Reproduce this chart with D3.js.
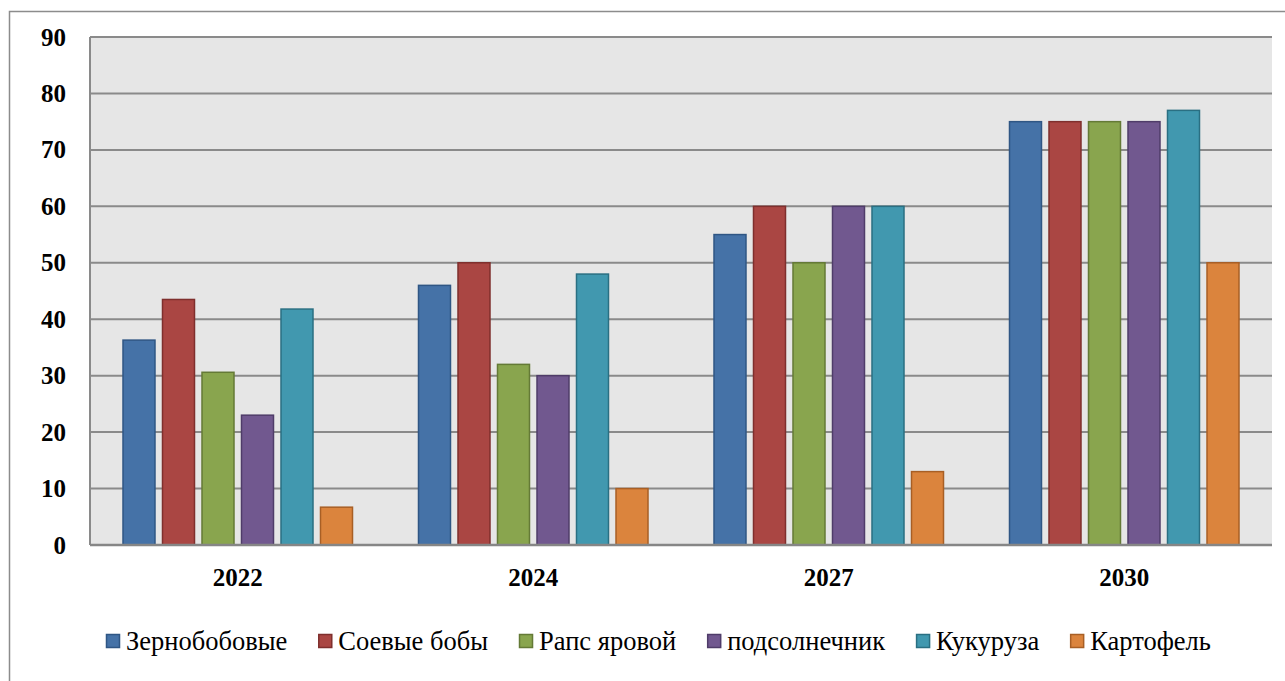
<!DOCTYPE html>
<html>
<head>
<meta charset="utf-8">
<script src="https://cdn.jsdelivr.net/npm/d3@7"></script>
<style>
  body { margin: 0; background: #fff; }
  svg text { font-family: "Liberation Serif", "Times New Roman", serif; }
</style>
</head>
<body>
<div id="chart"></div>
<script>
// data
var years = ["2022", "2024", "2027", "2030"];
var crops = ["Зернобобовые", "Соевые бобы", "Рапс яровой", "подсолнечник", "Кукуруза", "Картофель"];
var zernobobovye = [36.3, 46, 55, 75];
var soevye = [43.5, 50, 60, 75];
var raps = [30.6, 32, 50, 75];
var podsolnechnik = [23, 30, 60, 75];
var kukuruza = [41.8, 48, 60, 77];
var kartofel = [6.7, 10, 13, 50];
var yTicks = [0, 10, 20, 30, 40, 50, 60, 70, 80, 90];

var series = [zernobobovye, soevye, raps, podsolnechnik, kukuruza, kartofel];
var fills = ["#4572a7", "#aa4643", "#89a54e", "#71588f", "#4198af", "#db843d"];
var strokes = ["#2f5684", "#7f2f2d", "#647a36", "#4f3c69", "#2a6f82", "#a85f25"];

var width = 1285, height = 681;
var plotLeft = 90, plotRight = 1272, plotTop = 37, plotBottom = 545;

var svg = d3.select('#chart')
  .append('svg')
  .attr('width', width)
  .attr('height', height);

// outer frame
svg.append('rect')
  .attr('x', 9.5).attr('y', 11.5)
  .attr('width', 1300).attr('height', 700)
  .attr('fill', '#fff')
  .attr('stroke', '#8c8c8c')
  .attr('stroke-width', 1.5);

var x0 = d3.scaleBand().domain(years).range([plotLeft, plotRight]);
var pad = 33;
var x1 = d3.scaleBand().domain(d3.range(crops.length))
  .range([pad, x0.bandwidth() - pad])
  .paddingInner(0.19);

var y = d3.scaleLinear().domain([0, 90]).range([plotBottom, plotTop]);

// plot background
svg.append('rect')
  .attr('x', plotLeft).attr('y', plotTop)
  .attr('width', plotRight - plotLeft).attr('height', plotBottom - plotTop)
  .attr('fill', '#e6e6e6');

// grid lines
svg.append('g')
  .selectAll('line')
  .data(yTicks.filter(function(d) { return d > 0; }))
  .enter()
  .append('line')
  .attr('x1', plotLeft).attr('x2', plotRight)
  .attr('y1', function(d) { return y(d); })
  .attr('y2', function(d) { return y(d); })
  .attr('stroke', '#8a8a8a')
  .attr('stroke-width', 2);

// left edge of plot
svg.append('line')
  .attr('x1', plotLeft).attr('x2', plotLeft)
  .attr('y1', plotTop).attr('y2', plotBottom)
  .attr('stroke', '#8a8a8a')
  .attr('stroke-width', 2);

// bars
var groups = svg.append('g')
  .selectAll('g')
  .data(years)
  .enter()
  .append('g')
  .attr('transform', function(d) { return 'translate(' + x0(d) + ',0)'; });

groups.selectAll('rect')
  .data(function(d, i) { return series.map(function(s, k) { return { k: k, v: s[i] }; }); })
  .enter()
  .append('rect')
  .attr('x', function(d) { return x1(d.k); })
  .attr('y', function(d) { return y(d.v); })
  .attr('width', x1.bandwidth())
  .attr('height', function(d) { return y(0) - y(d.v); })
  .attr('fill', function(d) { return fills[d.k]; })
  .attr('stroke', function(d) { return strokes[d.k]; })
  .attr('stroke-width', 1.5);

// x axis line
svg.append('line')
  .attr('x1', plotLeft).attr('x2', plotRight)
  .attr('y1', plotBottom).attr('y2', plotBottom)
  .attr('stroke', '#868686')
  .attr('stroke-width', 2.5);

// y labels
svg.append('g')
  .selectAll('text')
  .data(yTicks)
  .enter()
  .append('text')
  .attr('x', 66)
  .attr('y', function(d) { return y(d); })
  .attr('dy', '0.34em')
  .attr('text-anchor', 'end')
  .style('font-size', '25px')
  .style('font-weight', 'bold')
  .text(function(d) { return d; });

// x labels
svg.append('g')
  .selectAll('text')
  .data(years)
  .enter()
  .append('text')
  .attr('x', function(d) { return x0(d) + x0.bandwidth() / 2; })
  .attr('y', 586)
  .attr('text-anchor', 'middle')
  .style('font-size', '25px')
  .style('font-weight', 'bold')
  .text(function(d) { return d; });

// legend
var legend = svg.append('g');
var lx = 106;
crops.forEach(function(c, i) {
  var item = legend.append('g').attr('transform', 'translate(' + lx + ',0)');
  item.append('rect')
    .attr('x', 0.5).attr('y', 634.5)
    .attr('width', 13).attr('height', 13)
    .attr('fill', fills[i])
    .attr('stroke', strokes[i])
    .attr('stroke-width', 1.5);
  var t = item.append('text')
    .attr('x', 20)
    .attr('y', 650)
    .style('font-size', '26.5px')
    .text(c);
  lx += 20 + t.node().getComputedTextLength() + 31;
});
</script>
</body>
</html>
